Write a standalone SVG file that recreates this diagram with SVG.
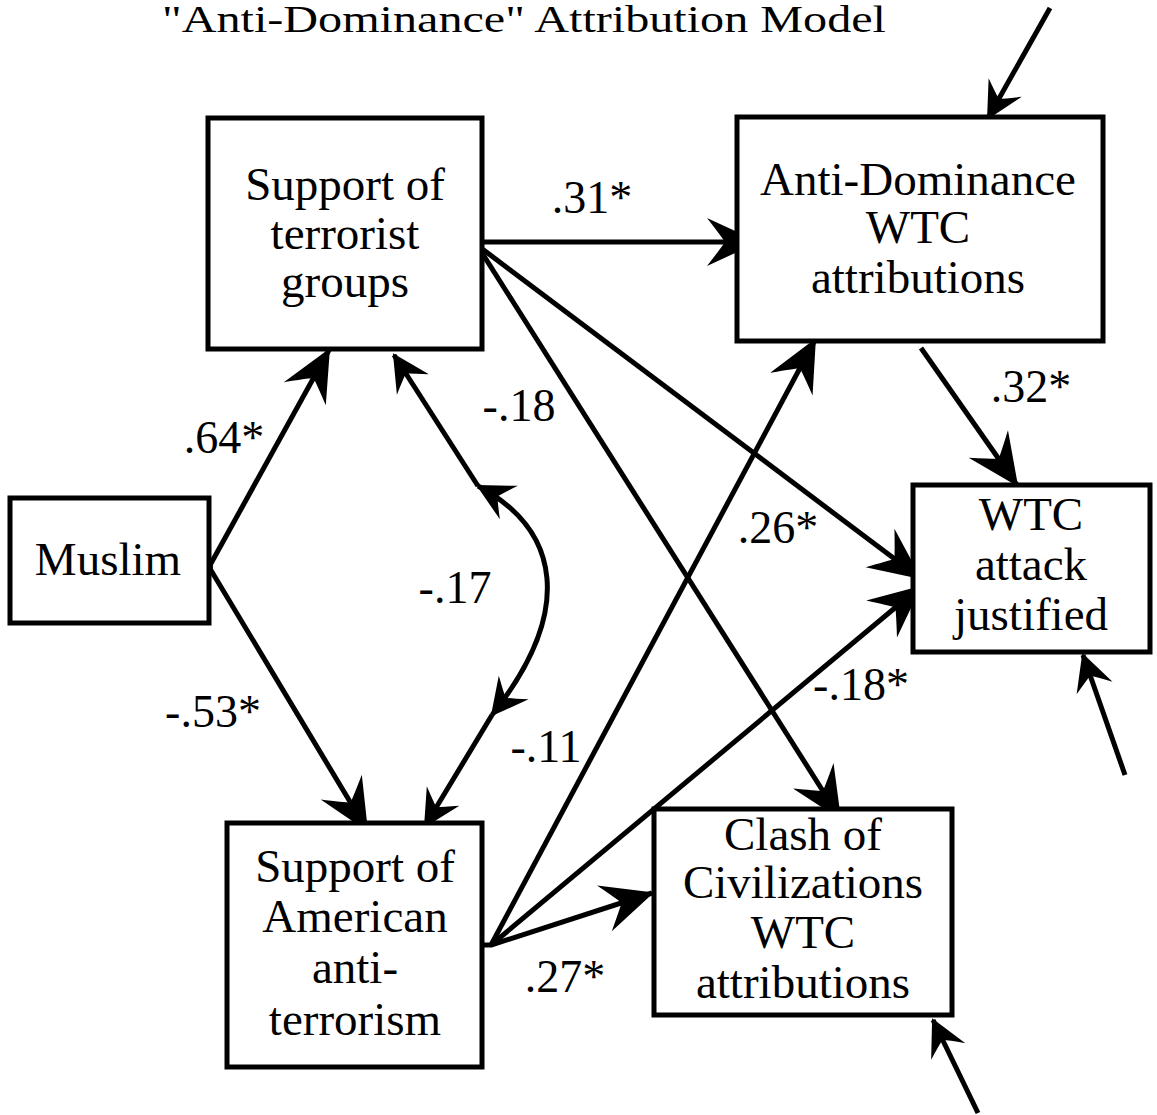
<svg xmlns="http://www.w3.org/2000/svg" width="1157" height="1115" viewBox="0 0 1157 1115">
<defs>
<style>
.box{fill:#fff;stroke:#000;stroke-width:5}
.t{font-family:'Liberation Serif','DejaVu Serif','Times New Roman',serif;font-size:47px;fill:#000;text-anchor:middle}
.lab{font-family:'Liberation Serif','DejaVu Serif','Times New Roman',serif;font-size:46px;fill:#000;text-anchor:middle}
.ttl{font-family:'Liberation Serif','DejaVu Serif','Times New Roman',serif;font-size:38px;fill:#000}
.c{fill:none;stroke:#000;stroke-width:5}
.big{marker-end:url(#ab)}
.sm{marker-end:url(#as)}
</style>
<marker id="ab" markerUnits="userSpaceOnUse" markerWidth="60" markerHeight="60" refX="0" refY="0" orient="auto" overflow="visible">
<path d="M2,0 L-50,-24 Q-36,-6 -32,0 Q-36,6 -50,24 Z" fill="#000"/>
</marker>
<marker id="as" markerUnits="userSpaceOnUse" markerWidth="40" markerHeight="40" refX="0" refY="0" orient="auto-start-reverse" overflow="visible">
<path d="M2,0 L-35,-19 Q-25,-5 -22,0 Q-25,5 -35,19 Z" fill="#000"/>
</marker>
</defs>
<rect width="1157" height="1115" fill="#fff"/>
<text class="ttl" x="162" y="32" textLength="724" lengthAdjust="spacingAndGlyphs">"Anti-Dominance" Attribution Model</text>

<g id="connectors">
<line class="c sm" x1="1050" y1="8" x2="988" y2="118"/>
<line class="c big" x1="477" y1="242" x2="757" y2="242"/>
<line class="c big" x1="209" y1="567" x2="329" y2="350"/>
<line class="c big" x1="209" y1="567" x2="367" y2="830"/>
<line class="c sm" x1="478" y1="486" x2="394" y2="355"/>
<path class="c" d="M478,486 C560,530 575,610 492,715" marker-start="url(#as)" marker-end="url(#as)"/>
<line class="c sm" x1="492" y1="715" x2="425" y2="826"/>
<line class="c big" x1="477" y1="245" x2="920" y2="578"/>
<line class="c big" x1="477" y1="245" x2="840" y2="818"/>
<line class="c big" x1="921" y1="348" x2="1017" y2="485"/>
<line class="c big" x1="491" y1="945" x2="815" y2="340"/>
<line class="c big" x1="491" y1="945" x2="920" y2="587"/>
<line class="c big" x1="491" y1="945" x2="652" y2="893"/>
<line class="c" x1="482" y1="945" x2="492" y2="945"/>
<line class="c sm" x1="1125" y1="775" x2="1083" y2="655"/>
<line class="c sm" x1="978" y1="1113" x2="933" y2="1020"/>
<circle cx="209" cy="567" r="4" fill="#000"/>
</g>

<g id="labels">
<text class="lab" x="592" y="213">.31*</text>
<text class="lab" x="224" y="453">.64*</text>
<text class="lab" x="213" y="727">-.53*</text>
<text class="lab" x="455" y="603">-.17</text>
<text class="lab" x="519" y="421">-.18</text>
<text class="lab" x="546" y="762">-.11</text>
<text class="lab" x="1031" y="402">.32*</text>
<text class="lab" x="778" y="543">.26*</text>
<text class="lab" x="861" y="700">-.18*</text>
<text class="lab" x="565" y="992">.27*</text>
</g>

<g id="terror">
<rect class="box" x="208" y="118" width="274" height="231"/>
<text class="t" x="345" y="200">Support of</text>
<text class="t" x="345" y="249">terrorist</text>
<text class="t" x="345" y="297">groups</text>
</g>
<g id="antidom">
<rect class="box" x="737" y="117" width="366" height="224"/>
<text class="t" x="918" y="195">Anti-Dominance</text>
<text class="t" x="918" y="243">WTC</text>
<text class="t" x="918" y="293">attributions</text>
</g>
<g id="muslim">
<rect class="box" x="10" y="498" width="199" height="125"/>
<text class="t" x="108" y="575">Muslim</text>
</g>
<g id="justified">
<rect class="box" x="913" y="485" width="237" height="167"/>
<text class="t" x="1031" y="530">WTC</text>
<text class="t" x="1031" y="580">attack</text>
<text class="t" x="1031" y="630">justified</text>
</g>
<g id="antiterror">
<rect class="box" x="227" y="823" width="255" height="244"/>
<text class="t" x="355" y="882">Support of</text>
<text class="t" x="355" y="932">American</text>
<text class="t" x="355" y="983">anti-</text>
<text class="t" x="355" y="1035">terrorism</text>
</g>
<g id="clash">
<rect class="box" x="654" y="809" width="298" height="206"/>
<text class="t" x="803" y="850">Clash of</text>
<text class="t" x="803" y="898">Civilizations</text>
<text class="t" x="803" y="948">WTC</text>
<text class="t" x="803" y="998">attributions</text>
</g>
</svg>
